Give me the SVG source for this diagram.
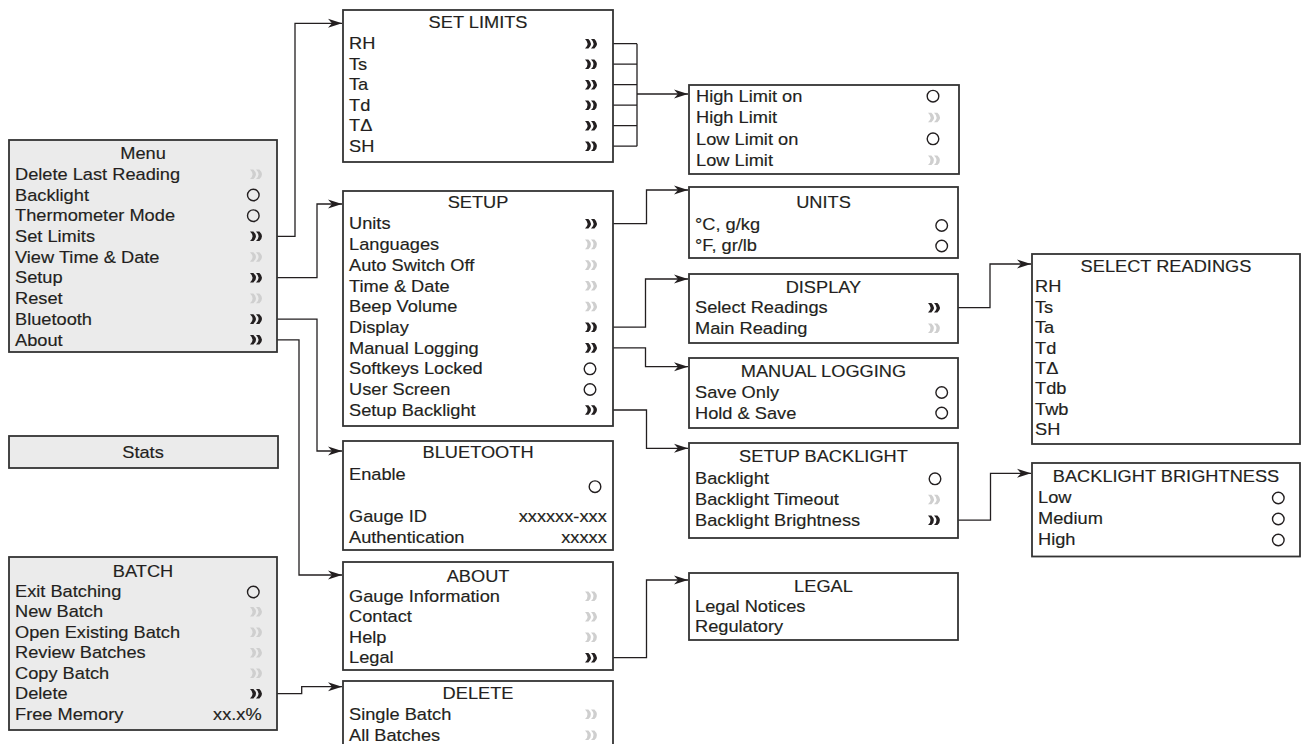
<svg xmlns="http://www.w3.org/2000/svg" xmlns:xlink="http://www.w3.org/1999/xlink" width="1301" height="744" viewBox="0 0 1301 744">
<style>
  text { font-family: "Liberation Sans", Arial, sans-serif; font-size: 16px; fill: #231f20; stroke: #231f20; stroke-width: 0.15; }
  .t { text-anchor: middle; }
  .r { text-anchor: end; }
  .box { fill: #ffffff; stroke: #333333; stroke-width: 1.8; }
  .gbox { fill: #ebebeb; stroke: #333333; stroke-width: 1.8; }
  .rb { fill: none; stroke: #231f20; stroke-width: 1.4; }
  .on { fill: #231f20; }
  .off { fill: #cfcfcf; }
  .conn path { fill: none; stroke: #231f20; stroke-width: 1.3; }
</style>
<defs>
  <g id="chev"><path d="M0,-4.8 Q5.2,0 0,4.8 L3.4,4.8 Q8.6,0 3.4,-4.8 Z M6,-4.8 Q11.2,0 6,4.8 L9.4,4.8 Q14.6,0 9.4,-4.8 Z"/></g>
  <marker id="arr" viewBox="0 0 14 10" markerWidth="14" markerHeight="10" markerUnits="userSpaceOnUse" refX="14" refY="5" orient="auto">
    <path d="M0,0.5 L14,5 L0,9.5 L4,5 Z" fill="#231f20"/>
  </marker>
</defs>
<rect width="1301" height="744" fill="#ffffff"/>

<g id="connectors" class="conn">
  <path d="M262,236.3 H295 V23.3 H342" marker-end="url(#arr)"/>
  <path d="M262,277.7 H317 V204 H342" marker-end="url(#arr)"/>
  <path d="M262,319.1 H317 V451 H342" marker-end="url(#arr)"/>
  <path d="M262,339.8 H299 V575 H342" marker-end="url(#arr)"/>
  <path d="M262,693.7 H301.7 V686.7 H342" marker-end="url(#arr)"/>
  <path d="M597,43.7 H637 M597,64.2 H637 M597,84.7 H637 M597,105.2 H637 M597,125.7 H637 M597,146.2 H637 M637,43.7 V146.2"/>
  <path d="M637,94 H688" marker-end="url(#arr)"/>
  <path d="M597,223.7 H646.5 V190 H688" marker-end="url(#arr)"/>
  <path d="M597,327.2 H645.5 V279 H688" marker-end="url(#arr)"/>
  <path d="M597,347.9 H645.5 V366.7 H688" marker-end="url(#arr)"/>
  <path d="M597,410 H646.5 V448.3 H688" marker-end="url(#arr)"/>
  <path d="M597,657.7 H646.5 V580 H688" marker-end="url(#arr)"/>
  <path d="M940,307.7 H990 V264 H1031" marker-end="url(#arr)"/>
  <path d="M940,520.2 H990.5 V473.3 H1031" marker-end="url(#arr)"/>
</g>

<g id="menu">
  <rect class="gbox" x="9" y="140" width="268" height="212"/>
  <g transform="translate(15,0) scale(1.14,1)">
    <text class="t" x="112.3" y="159">Menu</text>
    <text x="0" y="180">Delete Last Reading</text>
    <text x="0" y="200.7">Backlight</text>
    <text x="0" y="221.4">Thermometer Mode</text>
    <text x="0" y="242.1">Set Limits</text>
    <text x="0" y="262.8">View Time &amp; Date</text>
    <text x="0" y="283.5">Setup</text>
    <text x="0" y="304.2">Reset</text>
    <text x="0" y="324.9">Bluetooth</text>
    <text x="0" y="345.6">About</text>
  </g>
  <use href="#chev" class="off" x="250" y="174.2"/>
  <circle class="rb" cx="253.3" cy="195" r="5.8"/>
  <circle class="rb" cx="253.3" cy="215.7" r="5.8"/>
  <use href="#chev" class="on" x="250" y="236.3"/>
  <use href="#chev" class="off" x="250" y="257"/>
  <use href="#chev" class="on" x="250" y="277.7"/>
  <use href="#chev" class="off" x="250" y="298.4"/>
  <use href="#chev" class="on" x="250" y="319.1"/>
  <use href="#chev" class="on" x="250" y="339.8"/>
</g>

<g id="stats">
  <rect class="gbox" x="9" y="436" width="269" height="32"/>
  <g transform="translate(143,0) scale(1.14,1)">
    <text class="t" x="0" y="457.7">Stats</text>
  </g>
</g>

<g id="batch">
  <rect class="gbox" x="9" y="557" width="268" height="173"/>
  <g transform="translate(15,0) scale(1.14,1)">
    <text class="t" x="112.3" y="577">BATCH</text>
    <text x="0" y="597">Exit Batching</text>
    <text x="0" y="617.5">New Batch</text>
    <text x="0" y="638">Open Existing Batch</text>
    <text x="0" y="658.5">Review Batches</text>
    <text x="0" y="679">Copy Batch</text>
    <text x="0" y="699.5">Delete</text>
    <text x="0" y="720">Free Memory</text>
    <text class="r" x="216.4" y="720">xx.x%</text>
  </g>
  <circle class="rb" cx="253.3" cy="592" r="5.8"/>
  <use href="#chev" class="off" x="250" y="611.7"/>
  <use href="#chev" class="off" x="250" y="632.2"/>
  <use href="#chev" class="off" x="250" y="652.7"/>
  <use href="#chev" class="off" x="250" y="673.2"/>
  <use href="#chev" class="on" x="250" y="693.7"/>
</g>

<g id="setlimits">
  <rect class="box" x="343" y="10" width="270" height="152"/>
  <g transform="translate(349,0) scale(1.14,1)">
    <text class="t" x="113.2" y="28.5">SET LIMITS</text>
    <text x="0" y="49.5">RH</text>
    <text x="0" y="70">Ts</text>
    <text x="0" y="90.5">Ta</text>
    <text x="0" y="111">Td</text>
    <text x="0" y="131.5">TΔ</text>
    <text x="0" y="152">SH</text>
  </g>
  <use href="#chev" class="on" x="585" y="43.7"/>
  <use href="#chev" class="on" x="585" y="64.2"/>
  <use href="#chev" class="on" x="585" y="84.7"/>
  <use href="#chev" class="on" x="585" y="105.2"/>
  <use href="#chev" class="on" x="585" y="125.7"/>
  <use href="#chev" class="on" x="585" y="146.2"/>
</g>

<g id="limits">
  <rect class="box" x="689" y="85" width="270" height="89"/>
  <g transform="translate(696,0) scale(1.14,1)">
    <text x="0" y="102">High Limit on</text>
    <text x="0" y="123.3">High Limit</text>
    <text x="0" y="144.6">Low Limit on</text>
    <text x="0" y="166">Low Limit</text>
  </g>
  <circle class="rb" cx="933" cy="96.2" r="5.8"/>
  <use href="#chev" class="off" x="928" y="117.5"/>
  <circle class="rb" cx="933" cy="138.8" r="5.8"/>
  <use href="#chev" class="off" x="928" y="160.2"/>
</g>

<g id="setup">
  <rect class="box" x="343" y="191" width="270" height="235"/>
  <g transform="translate(349,0) scale(1.14,1)">
    <text class="t" x="113.2" y="208">SETUP</text>
    <text x="0" y="229.5">Units</text>
    <text x="0" y="250.2">Languages</text>
    <text x="0" y="270.9">Auto Switch Off</text>
    <text x="0" y="291.6">Time &amp; Date</text>
    <text x="0" y="312.3">Beep Volume</text>
    <text x="0" y="333">Display</text>
    <text x="0" y="353.7">Manual Logging</text>
    <text x="0" y="374.4">Softkeys Locked</text>
    <text x="0" y="395.1">User Screen</text>
    <text x="0" y="415.8">Setup Backlight</text>
  </g>
  <use href="#chev" class="on" x="585" y="223.7"/>
  <use href="#chev" class="off" x="585" y="244.4"/>
  <use href="#chev" class="off" x="585" y="265.1"/>
  <use href="#chev" class="off" x="585" y="285.8"/>
  <use href="#chev" class="off" x="585" y="306.5"/>
  <use href="#chev" class="on" x="585" y="327.2"/>
  <use href="#chev" class="on" x="585" y="347.9"/>
  <circle class="rb" cx="590" cy="368.8" r="5.8"/>
  <circle class="rb" cx="590" cy="389.5" r="5.8"/>
  <use href="#chev" class="on" x="585" y="410"/>
</g>

<g id="units">
  <rect class="box" x="689" y="187" width="269" height="71"/>
  <g transform="translate(695,0) scale(1.14,1)">
    <text class="t" x="112.7" y="208">UNITS</text>
    <text x="0" y="230.5">°C, g/kg</text>
    <text x="0" y="251">°F, gr/lb</text>
  </g>
  <circle class="rb" cx="941.7" cy="225.5" r="5.8"/>
  <circle class="rb" cx="941.7" cy="246" r="5.8"/>
</g>

<g id="display">
  <rect class="box" x="689" y="274" width="269" height="69"/>
  <g transform="translate(695,0) scale(1.14,1)">
    <text class="t" x="112.7" y="293.3">DISPLAY</text>
    <text x="0" y="313.5">Select Readings</text>
    <text x="0" y="334">Main Reading</text>
  </g>
  <use href="#chev" class="on" x="928" y="307.7"/>
  <use href="#chev" class="off" x="928" y="328.2"/>
</g>

<g id="manuallogging">
  <rect class="box" x="689" y="358" width="269" height="70"/>
  <g transform="translate(695,0) scale(1.14,1)">
    <text class="t" x="112.7" y="377">MANUAL LOGGING</text>
    <text x="0" y="398.5">Save Only</text>
    <text x="0" y="419.5">Hold &amp; Save</text>
  </g>
  <circle class="rb" cx="941.7" cy="392.5" r="5.8"/>
  <circle class="rb" cx="941.7" cy="413" r="5.8"/>
</g>

<g id="selectreadings">
  <rect class="box" x="1032" y="254" width="268" height="190"/>
  <g transform="translate(1035,0) scale(1.14,1)">
    <text class="t" x="114.9" y="271.7">SELECT READINGS</text>
    <text x="0" y="292.5">RH</text>
    <text x="0" y="312.9">Ts</text>
    <text x="0" y="333.3">Ta</text>
    <text x="0" y="353.7">Td</text>
    <text x="0" y="374.1">TΔ</text>
    <text x="0" y="394.5">Tdb</text>
    <text x="0" y="414.9">Twb</text>
    <text x="0" y="435.3">SH</text>
  </g>
</g>

<g id="bluetooth">
  <rect class="box" x="343" y="441" width="270" height="109"/>
  <g transform="translate(349,0) scale(1.14,1)">
    <text class="t" x="113.2" y="458.3">BLUETOOTH</text>
    <text x="0" y="480">Enable</text>
    <text x="0" y="521.7">Gauge ID</text>
    <text class="r" x="226.1" y="521.7">xxxxxx-xxx</text>
    <text x="0" y="543.3">Authentication</text>
    <text class="r" x="226.1" y="543.3">xxxxx</text>
  </g>
  <circle class="rb" cx="595" cy="486.7" r="5.8"/>
</g>

<g id="setupbacklight">
  <rect class="box" x="689" y="443" width="269" height="95"/>
  <g transform="translate(695,0) scale(1.14,1)">
    <text class="t" x="112.7" y="462.3">SETUP BACKLIGHT</text>
    <text x="0" y="484">Backlight</text>
    <text x="0" y="505">Backlight Timeout</text>
    <text x="0" y="526">Backlight Brightness</text>
  </g>
  <circle class="rb" cx="935" cy="478.8" r="5.8"/>
  <use href="#chev" class="off" x="928" y="499.5"/>
  <use href="#chev" class="on" x="928" y="520.2"/>
</g>

<g id="backlightbrightness">
  <rect class="box" x="1032" y="463" width="268" height="93.5"/>
  <g transform="translate(1038,0) scale(1.14,1)">
    <text class="t" x="112.3" y="481.7">BACKLIGHT BRIGHTNESS</text>
    <text x="0" y="503.3">Low</text>
    <text x="0" y="524.3">Medium</text>
    <text x="0" y="545">High</text>
  </g>
  <circle class="rb" cx="1278.3" cy="498" r="5.8"/>
  <circle class="rb" cx="1278.3" cy="519" r="5.8"/>
  <circle class="rb" cx="1278.3" cy="540" r="5.8"/>
</g>

<g id="about">
  <rect class="box" x="343" y="562" width="270" height="108"/>
  <g transform="translate(349,0) scale(1.14,1)">
    <text class="t" x="113.2" y="581.7">ABOUT</text>
    <text x="0" y="602">Gauge Information</text>
    <text x="0" y="622.5">Contact</text>
    <text x="0" y="643">Help</text>
    <text x="0" y="663.5">Legal</text>
  </g>
  <use href="#chev" class="off" x="585" y="596.2"/>
  <use href="#chev" class="off" x="585" y="616.7"/>
  <use href="#chev" class="off" x="585" y="637.2"/>
  <use href="#chev" class="on" x="585" y="657.7"/>
</g>

<g id="legal">
  <rect class="box" x="689" y="573" width="269" height="67"/>
  <g transform="translate(695,0) scale(1.14,1)">
    <text class="t" x="112.7" y="592.3">LEGAL</text>
    <text x="0" y="612">Legal Notices</text>
    <text x="0" y="632">Regulatory</text>
  </g>
</g>

<g id="delete">
  <rect class="box" x="343" y="681" width="270" height="64"/>
  <g transform="translate(349,0) scale(1.14,1)">
    <text class="t" x="113.2" y="699.3">DELETE</text>
    <text x="0" y="720">Single Batch</text>
    <text x="0" y="741">All Batches</text>
  </g>
  <use href="#chev" class="off" x="585" y="714.2"/>
  <use href="#chev" class="off" x="585" y="735.2"/>
</g>
</svg>
